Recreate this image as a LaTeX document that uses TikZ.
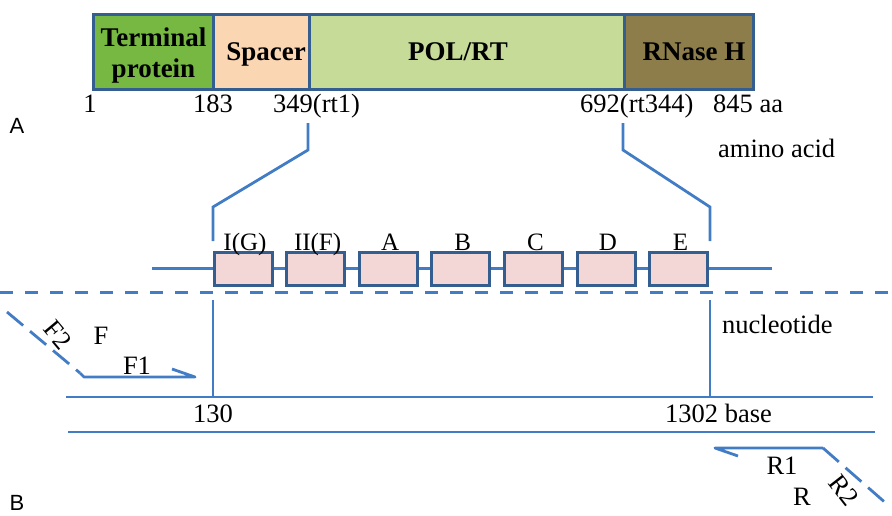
\documentclass[tikz,border=0pt]{standalone}
\usepackage{fontspec}
\setmainfont{Liberation Serif}
\newfontfamily\panelfont{Liberation Sans}
\definecolor{linkblue}{RGB}{66,124,196}
\definecolor{edgeblue}{RGB}{52,94,144}
\definecolor{tpgreen}{RGB}{118,184,66}
\definecolor{spacerpeach}{RGB}{250,214,178}
\definecolor{polgreen}{RGB}{199,219,152}
\definecolor{rnaseolive}{RGB}{140,125,74}
\definecolor{motifpink}{RGB}{243,215,214}
\begin{document}
\begin{tikzpicture}[x=1pt,y=-1pt,
  domainbox/.style={draw=edgeblue,line width=3pt,minimum height=75pt,anchor=north west,
    inner sep=0pt},
  domainlabel/.style={anchor=base,inner sep=0pt,font=\fontsize{27}{27}\selectfont\bfseries},
  motif/.style={draw=edgeblue,line width=3pt,fill=motifpink,minimum width=58pt,
    minimum height=33pt,inner sep=0pt},
  motiflabel/.style={anchor=base,inner sep=0pt,font=\fontsize{25}{25}\selectfont},
  txt/.style={inner sep=0pt,font=\fontsize{26.5}{26.5}\selectfont},
  link/.style={draw=linkblue,line width=2.8pt},
  primerdash/.style={link,dash pattern=on 21pt off 9pt},
  panel/.style={inner sep=0pt,font=\panelfont\fontsize{22}{22}\selectfont}]
\useasboundingbox (0,0) rectangle (892,515);

% protein domains
\node[domainbox,fill=tpgreen,minimum width=120pt] (tp) at (92,13) {};
\node[domainbox,fill=spacerpeach,minimum width=96pt] (sp) at (212,13) {};
\node[domainbox,fill=polgreen,minimum width=315pt] (pol) at (308,13) {};
\node[domainbox,fill=rnaseolive,minimum width=129pt] (rh) at (623,13) {};
\node[domainlabel] (tpl1) at (153.5,46) {Terminal};
\node[domainlabel] (tpl2) at (153.5,77) {protein};
\node[domainlabel] (spl) at (266,60) {Spacer};
\node[domainlabel] (poll) at (458,60) {POL/RT};
\node[domainlabel] (rhl) at (694,60) {RNase H};

% amino acid positions
\node[txt,anchor=base] (p1) at (90,112) {1};
\node[txt,anchor=base] (p183) at (213,112) {183};
\node[txt,anchor=base west] (p349) at (273,112) {349(rt1)};
\node[txt,anchor=base west] (p692) at (580,112) {692(rt344)};
\node[txt,anchor=base west] (p845) at (713,112) {845 aa};
\node[txt,anchor=base west] (aa) at (718,157) {amino acid};
\node[panel] (pa) at (17,126) {A};

% RT motifs
\foreach \name/\lab [count=\i from 0] in {mG/I(G),mF/II(F),mA/A,mB/B,mC/C,mD/D,mE/E}{
  \node[motif] (\name) at ({243+72.6*\i},268.5) {};
  \node[motiflabel] (\name l) at ({245+72.6*\i},250) {\lab};
}
\coordinate (axl) at (152,268.5);
\coordinate (axr) at (772,268.5);
\draw[link] (axl) -- (mG) (mG) -- (mF) (mF) -- (mA) (mA) -- (mB)
  (mB) -- (mC) (mC) -- (mD) (mD) -- (mE) (mE) -- (axr);

% zoom from POL/RT to the motif region
\coordinate (zl0) at (308,123);
\coordinate (zl1) at (308,150);
\coordinate (zl2) at (213,207);
\coordinate (zl3) at (213,241);
\coordinate (zr0) at (623,123);
\coordinate (zr1) at (623,150);
\coordinate (zr2) at (710,207);
\coordinate (zr3) at (710,241);
\draw[link] (zl0) -- (zl1) -- (zl2) -- (zl3);
\draw[link] (zr0) -- (zr1) -- (zr2) -- (zr3);

% protein / nucleotide divider
\coordinate (dv0) at (0,292.5);
\coordinate (dv1) at (892,292.5);
\draw[link,line width=3.2pt,dash pattern=on 13pt off 12pt] (dv0) -- (dv1);

% DNA strands
\coordinate (s1l) at (66,397);
\coordinate (s1r) at (873,397);
\coordinate (s2l) at (68,432);
\coordinate (s2r) at (875,432);
\draw[link] (s1l) -- (s1r);
\draw[link] (s2l) -- (s2r);
\coordinate (n130t) at (213,300);
\coordinate (n130) at (213,397);
\coordinate (n1302t) at (710,300);
\coordinate (n1302) at (710,397);
\draw[link] (n130t) -- (n130);
\draw[link] (n1302t) -- (n1302);
\node[txt,anchor=base] (l130) at (213,422) {130};
\node[txt,anchor=base west] (l1302) at (665,422) {1302 base};
\node[txt,anchor=base west] (nt) at (722,333) {nucleotide};

% forward primers
\coordinate (f2a) at (7,312);
\coordinate (f2b) at (80,373);
\coordinate (f1a) at (84,377);
\coordinate (f1b) at (195,377);
\coordinate (f1h) at (172,369);
\draw[primerdash] (f2a) -- (f2b);
\draw[link,line join=round] (f2b) -- (f1a) -- (f1b) -- (f1h);
\node[txt,rotate=-50] (lf2) at (58,335) {F2};
\node[txt] (lf) at (101,336) {F};
\node[txt] (lf1) at (137,366) {F1};

% reverse primers
\coordinate (r2a) at (888,505);
\coordinate (r2b) at (823,448);
\coordinate (r1b) at (715,448);
\coordinate (r1h) at (738,456);
\draw[primerdash] (r2b) -- (r2a);
\draw[link,line join=round] (r2b) -- (r1b) -- (r1h);
\node[txt] (lr1) at (782,466) {R1};
\node[txt] (lr) at (802,497) {R};
\node[txt,rotate=-52] (lr2) at (844,490) {R2};
\node[panel] (pb) at (17,503) {B};
\end{tikzpicture}
\end{document}
